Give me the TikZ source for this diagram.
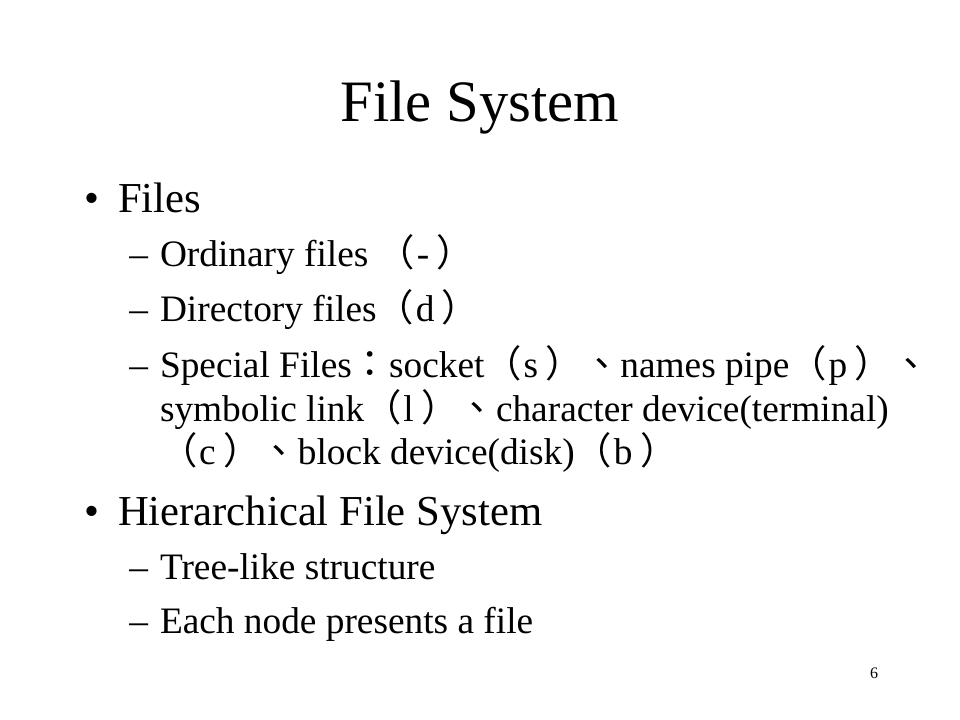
\documentclass[tikz,border=0pt]{standalone}
\usepackage{fontspec}
\setmainfont{Liberation Serif}
\newfontfamily\cjk{Noto Sans CJK TC}
\newcommand{\fw}[1]{{\cjk #1}}
% full-width marks with a little air inside the brackets
\newcommand{\fwl}{\fw{（}\hspace{0.05em}}
\newcommand{\fwr}{\hspace{0.2em}\fw{）}}

\begin{document}
\begin{tikzpicture}[
                x=1pt, y=1pt,
                every node/.style={inner sep=0pt, outer sep=0pt},
                heading/.style={anchor=base, font=\fontsize{44}{52}\selectfont},
                mark1/.style={anchor=base west, font=\fontsize{32}{38}\selectfont},
                item/.style={anchor=base west, font=\fontsize{32}{38}\selectfont},
                mark2/.style={anchor=base west, font=\fontsize{28}{33}\selectfont},
                subitem/.style={anchor=base west, font=\fontsize{28}{33}\selectfont},
                pagenum/.style={anchor=base west, font=\fontsize{12}{14}\selectfont},
            ]
            \useasboundingbox (0,0) rectangle (720,540);

            % Define nodes
            \node[heading] (T) at (360,448.5) {File System};

            \node[mark1] (B1) at (63,380.25) {•};
            \node[item] (I1) at (88.5,380.25) {Files};
            \node[mark2] (D1) at (97,339.75) {–};
            \node[subitem] (S1) at (120,339.75) {Ordinary files \fwl-\fwr};
            \node[mark2] (D2) at (97,298.5) {–};
            \node[subitem] (S2) at (120,298.5) {Directory files\fwl d\fwr};
            \node[mark2] (D3) at (97,256.5) {–};
            \node[subitem] (S3a) at (120,256.5) {Special Files\fw{：}socket\fwl s\fwr\fw{、}names pipe\fwl p\fwr\fw{、}};
            \node[subitem] (S3b) at (120,223.5) {symbolic link\fwl l\fwr\fw{、}character device(terminal)};
            \node[subitem] (S3c) at (120,191.25) {\fwl c\fwr\fw{、}block device(disk)\fwl b\fwr};

            \node[mark1] (B2) at (63,145.5) {•};
            \node[item] (I2) at (88.5,145.5) {Hierarchical File System};
            \node[mark2] (D4) at (97,105) {–};
            \node[subitem] (S4) at (120,105) {Tree-like structure};
            \node[mark2] (D5) at (97,64.5) {–};
            \node[subitem] (S5) at (120,64.5) {Each node presents a file};

            % Draw page number
            \node[pagenum] (P) at (652.5,30.75) {6};

            \end{tikzpicture}
\end{document}
